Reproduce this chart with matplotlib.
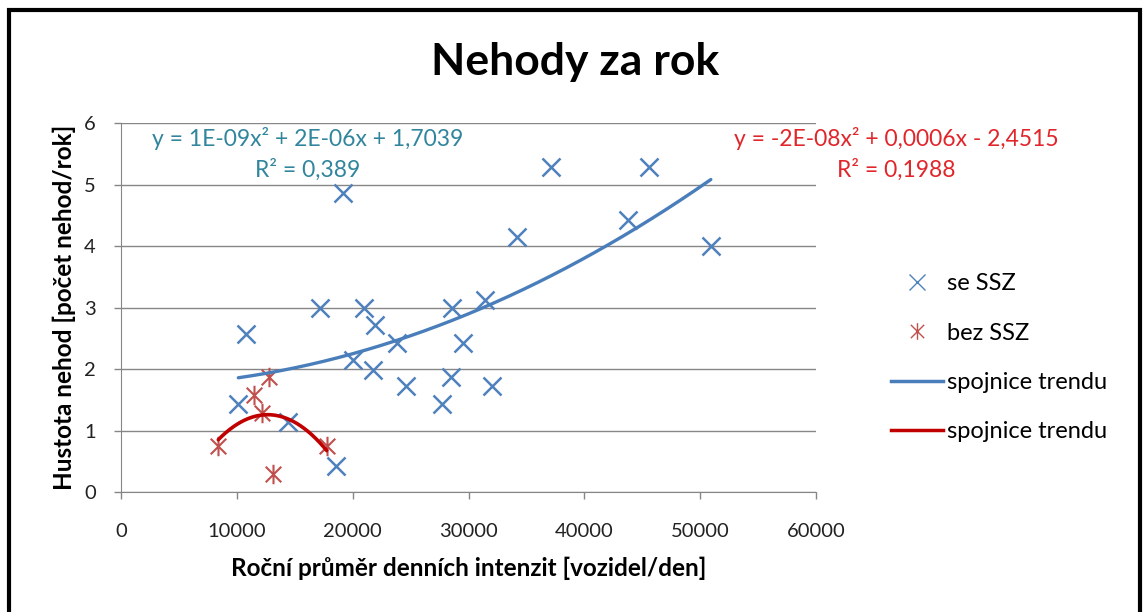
import numpy as np
import matplotlib
matplotlib.use('Agg')
import matplotlib.pyplot as plt
from matplotlib.path import Path
from matplotlib.lines import Line2D
from matplotlib.patches import Rectangle

plt.rcParams['font.family'] = ['Lato', 'DejaVu Sans']

# se SSZ (with traffic lights)
x_se = [10130, 10800, 14450, 17190, 18570, 19180, 20060, 21010, 21730, 21930,
        23860, 24610, 27690, 28470, 28550, 29560, 31430, 32010, 34220, 37100,
        43750, 45540, 50920]
y_se = [1.43, 2.57, 1.14, 3.00, 0.42, 4.86, 2.15, 3.00, 1.98, 2.72,
        2.43, 1.72, 1.43, 1.87, 3.00, 2.43, 3.13, 1.72, 4.14, 5.29,
        4.43, 5.29, 4.00]

# bez SSZ
x_bez = [8400, 11490, 12150, 12810, 13160, 17760]
y_bez = [0.74, 1.58, 1.28, 1.87, 0.30, 0.74]

eq_se = "y = 1E-09x² + 2E-06x + 1,7039\nR² = 0,389"
eq_bez = "y = -2E-08x² + 0,0006x - 2,4515\nR² = 0,1988"

c_blue = '#4F81BD'
c_red = '#C0504D'
c_trend_blue = '#4A7EBB'
c_trend_red = '#C00000'

# asterisk marker like excel: x plus vertical bar
star = Path([(-1, -1), (1, 1), (-1, 1), (1, -1), (0, -1.25), (0, 1.25)],
            [Path.MOVETO, Path.LINETO, Path.MOVETO, Path.LINETO, Path.MOVETO, Path.LINETO])

fig = plt.figure(figsize=(11.43, 6.12), dpi=100)
ax = fig.add_axes([121/1143, 1-492/612, 695/1143, 369/612])

ax.plot(x_se, y_se, linestyle='none', marker='x', markersize=13, mew=1.8, color=c_blue)
ax.plot(x_bez, y_bez, linestyle='none', marker=star, markersize=14, mew=1.5, color=c_red)

# polynomial trend lines (order 2)
p_se = np.polyfit(x_se, y_se, 2)
xs = np.linspace(min(x_se), max(x_se), 200)
ax.plot(xs, np.polyval(p_se, xs), color=c_trend_blue, lw=2.4, solid_capstyle='round')
p_bez = np.polyfit(x_bez, y_bez, 2)
xb = np.linspace(min(x_bez), max(x_bez), 200)
ax.plot(xb, np.polyval(p_bez, xb), color=c_trend_red, lw=2.6, solid_capstyle='round')

ax.set_xlim(0, 60000)
ax.set_ylim(0, 6)
ax.set_xticks(range(0, 60001, 10000))
ax.set_yticks(range(0, 7))
ax.yaxis.grid(True, color='#868686', lw=1)
ax.set_axisbelow(True)
for s in ['top', 'right']:
    ax.spines[s].set_visible(False)
for s in ['left', 'bottom']:
    ax.spines[s].set_color('#868686')
ax.tick_params(axis='both', colors='#868686', labelcolor='#222222', labelsize=14.5, length=5, width=1)
ax.tick_params(axis='x', pad=17)
ax.tick_params(axis='y', pad=13)

ax.set_xlabel('Roční průměr denních intenzit [vozidel/den]', fontsize=17.5, fontweight='bold', labelpad=12)
ax.set_ylabel('Hustota nehod [počet nehod/rok]', fontsize=17.5, fontweight='bold', labelpad=6)

fig.text(575/1143, 1-62/612, 'Nehody za rok', fontsize=32, fontweight='bold', ha='center', va='center')

fig.text(308/1143, 1-154/612, eq_se, color='#31859C', fontsize=16.5, ha='center', va='center',
         multialignment='center', linespacing=1.45)
fig.text(896/1143, 1-154/612, eq_bez, color='#E0262B', fontsize=16.5, ha='center', va='center',
         multialignment='center', linespacing=1.45)

handles = [Line2D([], [], linestyle='none', marker='x', markersize=12, mew=1, color=c_blue),
           Line2D([], [], linestyle='none', marker=star, markersize=12, mew=1, color=c_red),
           Line2D([], [], color=c_trend_blue, lw=2.5),
           Line2D([], [], color=c_trend_red, lw=2.5)]
labels = ['se SSZ', 'bez SSZ', 'spojnice trendu', 'spojnice trendu']
fig.legend(handles, labels, loc='upper left', bbox_to_anchor=(870/1143, 1-252/612), frameon=False,
           fontsize=17, handlelength=2.2, handletextpad=0.15, labelspacing=1.2)

# outer chart frame
fig.patches.append(Rectangle((9/1143, -0.05), 1131/1143, 1.05 - 10/612, transform=fig.transFigure,
                             fill=False, edgecolor='black', lw=3))

fig.savefig('out.png', dpi=100)
